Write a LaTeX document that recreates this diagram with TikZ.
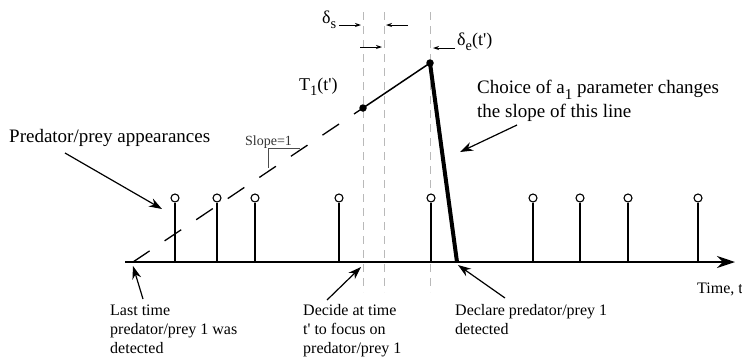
\documentclass[tikz,border=0pt]{standalone}
\usepackage{fontspec}
\setmainfont{Liberation Serif}
\usetikzlibrary{arrows.meta}
\newcommand\lsub[1]{\raisebox{-0.3em}{\scalebox{0.8}{#1}}}
\begin{document}
\begin{tikzpicture}[x=1pt,y=-1pt,
  lbl/.style={inner sep=0pt, font=\fontsize{19}{23.5}\selectfont, align=left},
  smlbl/.style={inner sep=0pt, font=\fontsize{16}{19}\selectfont, align=left},
  dlbl/.style={inner sep=0pt, font=\fontsize{18}{20}\selectfont},
  annot/.style={line width=1.2pt, -{Stealth[length=13pt,width=9pt]}},
  darr/.style={line width=0.9pt, -{Stealth[length=6pt,width=4pt]}},
  guide/.style={gray!55, line width=1pt, dash pattern=on 8pt off 6pt},
  stem/.style={line width=1.2pt},
  circ/.style={circle, draw, fill=white, line width=1.1pt, minimum size=8pt, inner sep=0pt},
  dot/.style={circle, fill, minimum size=7.5pt, inner sep=0pt}]
\useasboundingbox (0,0) rectangle (742,357);

% vertical guide lines
\foreach \x/\n in {363/ga,384/gb,430/gc} {
  \coordinate (\n t) at (\x,12);
  \coordinate (\n b) at (\x,292);
  \draw[guide] (\n t) -- (\n b);
}

% time axis
\coordinate (ax0) at (125,262);
\coordinate (ax1) at (735,262);
\draw[line width=1.5pt, -{Stealth[length=18pt,width=12pt]}] (ax0) -- (ax1);

% appearances
\foreach \x [count=\i] in {175,217,255,339,431,533,580,628,698} {
  \coordinate (sb\i) at (\x,262);
  \node[circ] (st\i) at (\x,198) {};
  \draw[stem] (sb\i) -- (st\i.south);
}

% T line
\coordinate (tstart) at (133,262);
\node[dot] (p1) at (363,108) {};
\node[dot] (p2) at (430,63) {};
\coordinate (tend) at (457,262);
\draw[line width=1.3pt, dash pattern=on 20pt off 18pt] (tstart) -- (p1.center);
\draw[line width=1.5pt] (p1.center) -- (p2.center);
\draw[line width=4pt] (p2.center) -- (tend);

% slope bracket
\node[inner sep=0pt, anchor=base west, font=\fontsize{14}{16}\selectfont, text=black!80] (slope) at (245,145) {Slope=1};
\coordinate (sl1) at (268,168);
\coordinate (sl2) at (268,148);
\coordinate (sl3) at (300,148);
\draw[black!70, line width=1pt] (sl1) -- (sl2) -- (sl3);

% delta labels and arrows
\node[dlbl, anchor=base west] (ds) at (322,23) {δ\lsub{s}};
\node[dlbl, anchor=base west] (de) at (457,45) {δ\lsub{e}(t\textquotesingle)};
\node[dlbl, anchor=base west] (T1) at (299,90) {T\lsub{1}(t\textquotesingle)};
\coordinate (d1a) at (339,25); \coordinate (d1b) at (361,25);
\coordinate (d2a) at (408,25); \coordinate (d2b) at (386,25);
\coordinate (d3a) at (360,47); \coordinate (d3b) at (382,47);
\coordinate (d4a) at (455,48); \coordinate (d4b) at (433,48);
\draw[darr] (d1a) -- (d1b);
\draw[darr] (d2a) -- (d2b);
\draw[darr] (d3a) -- (d3b);
\draw[darr] (d4a) -- (d4b);

% annotations
\node[lbl, anchor=base west] (pp) at (9,142) {Predator/prey appearances};
\coordinate (ppa) at (65,153); \coordinate (ppb) at (162,209);
\draw[annot] (ppa) -- (ppb);

\node[lbl, anchor=base west] (ch) at (477,117) {Choice of a\lsub{1} parameter changes\\the slope of this line};
\coordinate (cha) at (517,125); \coordinate (chb) at (460,152);
\draw[annot] (cha) -- (chb);

\node[smlbl, anchor=base west] (last) at (110,353) {Last time\\predator/prey 1 was\\detected};
\coordinate (la) at (143,299); \coordinate (lb) at (133,266);
\draw[annot] (la) -- (lb);

\node[smlbl, anchor=base west] (dec) at (303,353) {Decide at time\\t\textquotesingle{} to focus on\\predator/prey 1};
\coordinate (dea) at (327,300); \coordinate (deb) at (361,267);
\draw[annot] (dea) -- (deb);

\node[smlbl, anchor=base west] (decl) at (455,334) {Declare predator/prey 1\\detected};
\coordinate (dca) at (505,298); \coordinate (dcb) at (458,265);
\draw[annot] (dca) -- (dcb);

\node[smlbl, anchor=base west] (time) at (697,293) {Time, t};
\end{tikzpicture}
\end{document}
